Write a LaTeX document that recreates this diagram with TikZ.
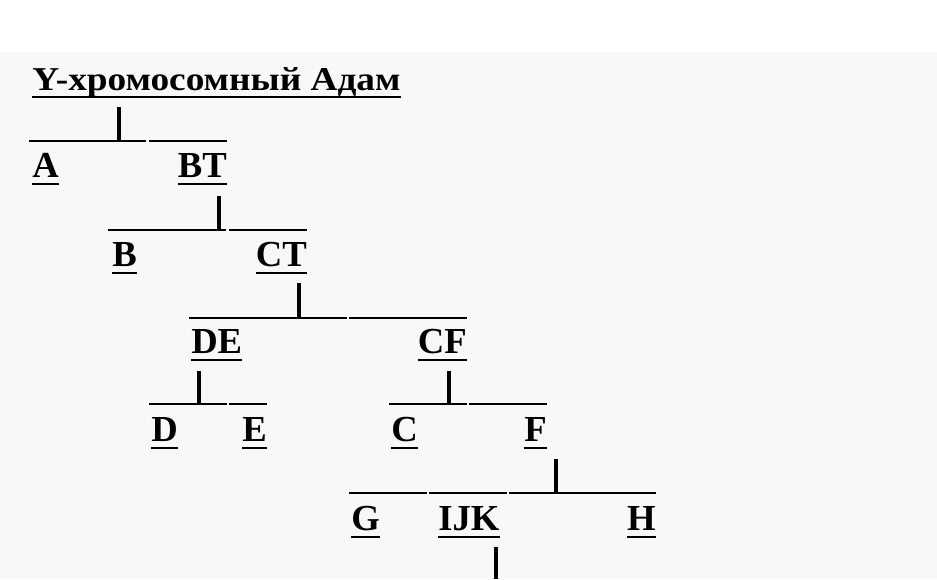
\documentclass[tikz,border=0pt]{standalone}
\usepackage{fontspec}
\setmainfont{Liberation Serif}
\definecolor{bggray}{HTML}{F8F8F8}
\tikzset{
  lbl/.style={inner sep=0pt, anchor=base west, font=\fontsize{27.5pt}{30pt}\selectfont\bfseries},
  ttl/.style={inner sep=0pt, anchor=base west, font=\fontsize{25pt}{28pt}\selectfont\bfseries},
  bar/.style={line width=1.6pt},
  stem/.style={line width=2.3pt},
  uline/.style={line width=1.6pt}
}
\newcommand{\ul}[1]{\draw[uline] ([yshift=-5]#1.base west) -- ([yshift=-5]#1.base east);}
\begin{document}
\begin{tikzpicture}[x=0.75pt,y=-0.75pt]
\useasboundingbox (0,0) rectangle (937,579);
\fill[white] (0,0) rectangle (937,579);
\fill[bggray] (0,52) rectangle (937,579);
% title
\node[ttl] (title) at (32,90) {\scalebox{1.12}[1]{Y-хромосомный Адам}};
\ul{title}
% level 1
\coordinate (s1a) at (119,107); \coordinate (s1b) at (119,141);
\draw[stem] (s1a) -- (s1b);
\coordinate (b1l) at (29,141); \coordinate (b1m) at (146,141);
\coordinate (b1n) at (149,141); \coordinate (b1r) at (227,141);
\draw[bar] (b1l) -- (b1m); \draw[bar] (b1n) -- (b1r);
\node[lbl] (A) at (32,177) {A}; \ul{A}
\node[lbl,anchor=base east] (BT) at (227,177) {BT}; \ul{BT}
% level 2
\coordinate (s2a) at (219,196); \coordinate (s2b) at (219,230);
\draw[stem] (s2a) -- (s2b);
\coordinate (b2l) at (108,230); \coordinate (b2m) at (226,230);
\coordinate (b2n) at (229,230); \coordinate (b2r) at (307,230);
\draw[bar] (b2l) -- (b2m); \draw[bar] (b2n) -- (b2r);
\node[lbl] (B) at (112,266) {B}; \ul{B}
\node[lbl,anchor=base east] (CT) at (307,266) {CT}; \ul{CT}
% level 3
\coordinate (s3a) at (299,283); \coordinate (s3b) at (299,318);
\draw[stem] (s3a) -- (s3b);
\coordinate (b3l) at (189,318); \coordinate (b3m) at (347,318);
\coordinate (b3n) at (349,318); \coordinate (b3r) at (467,318);
\draw[bar] (b3l) -- (b3m); \draw[bar] (b3n) -- (b3r);
\node[lbl] (DE) at (191,353) {DE}; \ul{DE}
\node[lbl,anchor=base east] (CF) at (467,353) {CF}; \ul{CF}
% level 4 left
\coordinate (s4a) at (199,371); \coordinate (s4b) at (199,404);
\draw[stem] (s4a) -- (s4b);
\coordinate (b4l) at (149,404); \coordinate (b4m) at (227,404);
\coordinate (b4n) at (229,404); \coordinate (b4r) at (267,404);
\draw[bar] (b4l) -- (b4m); \draw[bar] (b4n) -- (b4r);
\node[lbl] (D) at (151,441) {D}; \ul{D}
\node[lbl,anchor=base east] (E) at (267,441) {E}; \ul{E}
% level 4 right
\coordinate (s5a) at (449,371); \coordinate (s5b) at (449,404);
\draw[stem] (s5a) -- (s5b);
\coordinate (b5l) at (389,404); \coordinate (b5m) at (467,404);
\coordinate (b5n) at (469,404); \coordinate (b5r) at (547,404);
\draw[bar] (b5l) -- (b5m); \draw[bar] (b5n) -- (b5r);
\node[lbl] (C) at (391,441) {C}; \ul{C}
\node[lbl,anchor=base east] (F) at (547,441) {F}; \ul{F}
% level 5
\coordinate (s6a) at (556,459); \coordinate (s6b) at (556,493);
\draw[stem] (s6a) -- (s6b);
\coordinate (b6a) at (349,493); \coordinate (b6b) at (427,493);
\coordinate (b6c) at (429,493); \coordinate (b6d) at (507,493);
\coordinate (b6e) at (509,493); \coordinate (b6f) at (656,493);
\draw[bar] (b6a) -- (b6b); \draw[bar] (b6c) -- (b6d); \draw[bar] (b6e) -- (b6f);
\node[lbl] (G) at (351,530) {G}; \ul{G}
\node[lbl] (IJK) at (438,530) {IJK}; \ul{IJK}
\node[lbl,anchor=base east] (H) at (656,530) {H}; \ul{H}
% last stem
\coordinate (s7a) at (496,547); \coordinate (s7b) at (496,579);
\draw[stem] (s7a) -- (s7b);
\end{tikzpicture}
\end{document}
